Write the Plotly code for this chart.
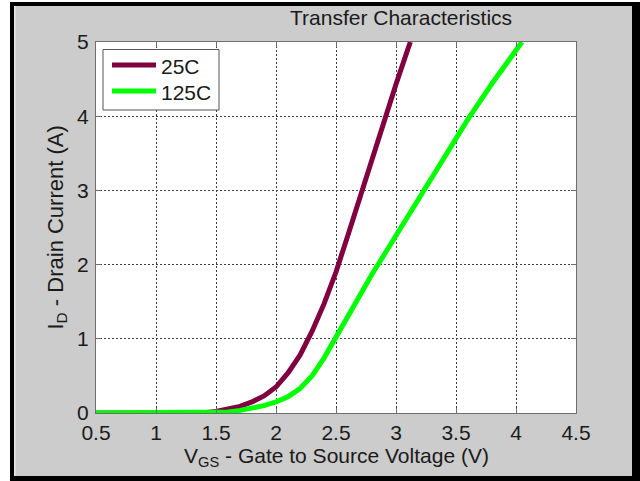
import plotly.graph_objects as go

# ---- data ----
vgs_25 = [0.5, 1.0, 1.3, 1.4, 1.5, 1.6, 1.7, 1.8, 1.9, 2.0, 2.1, 2.2, 2.3, 2.4,
          2.5, 2.6, 2.7, 2.8, 2.9, 3.0, 3.1, 3.12]
id_25 = [0, 0, 0, 0.005, 0.02, 0.05, 0.09, 0.15, 0.23, 0.35, 0.54, 0.78, 1.1, 1.47,
         1.9, 2.4, 2.92, 3.43, 3.94, 4.43, 4.91, 5.0]
vgs_125 = [0.5, 1.0, 1.4, 1.5, 1.6, 1.7, 1.8, 1.9, 2.0, 2.1, 2.2, 2.3, 2.4, 2.5,
           2.6, 2.7, 2.8, 2.9, 3.0, 3.2, 3.4, 3.6, 3.8, 4.0, 4.05]
id_125 = [0, 0, 0, 0.005, 0.015, 0.035, 0.065, 0.1, 0.15, 0.22, 0.33, 0.5, 0.74, 1.03,
          1.32, 1.6, 1.87, 2.13, 2.39, 2.92, 3.45, 3.96, 4.44, 4.9, 5.0]
series_names = ["25C", "125C"]
series_colors = ["#800040", "#00ff00"]
x_ticks = [0.5, 1, 1.5, 2, 2.5, 3, 3.5, 4, 4.5]
x_tick_labels = ["0.5", "1", "1.5", "2", "2.5", "3", "3.5", "4", "4.5"]
y_ticks = [0, 1, 2, 3, 4, 5]
y_tick_labels = ["0", "1", "2", "3", "4", "5"]

FONT = "Liberation Sans, Arial, sans-serif"
TXT = "#1a1a1a"
W, H = 640, 481
L, R, T, B = 96, 64, 42, 68
PW, PH = W - L - R, H - T - B


def px(X):
    return (X - L) / PW


def py(Y):
    return (H - B - Y) / PH


fig = go.Figure()
fig.add_trace(go.Scatter(x=vgs_25, y=id_25, mode="lines", name=series_names[0],
                         line=dict(color=series_colors[0], width=5), showlegend=False))
fig.add_trace(go.Scatter(x=vgs_125, y=id_125, mode="lines", name=series_names[1],
                         line=dict(color=series_colors[1], width=5), showlegend=False))

axis_common = dict(showline=True, linecolor="#6e6e6e", linewidth=1, mirror="ticks",
                   ticks="inside", ticklen=5, tickcolor="#6e6e6e",
                   showgrid=True, gridcolor="#404040", gridwidth=1, griddash="2px,2px",
                   zeroline=False, tickfont=dict(family=FONT, size=21, color=TXT))

fig.update_xaxes(range=[0.5, 4.5], tickvals=x_ticks, ticktext=x_tick_labels,
                 ticklabelstandoff=1, **axis_common)
fig.update_yaxes(range=[0, 5], tickvals=y_ticks, ticktext=y_tick_labels,
                 ticklabelstandoff=2, **axis_common)

shapes = []


def rect(X0, Y0, X1, Y1, color, layer="below", line=None):
    shapes.append(dict(type="rect", xref="paper", yref="paper",
                       x0=px(X0), x1=px(X1), y0=py(Y1), y1=py(Y0),
                       fillcolor=color, line=line or dict(width=0), layer=layer))


# outer frame
rect(-10, -10, 10, 500, "white")
rect(-10, -10, 660, 2, "white")
rect(10, 2, 14, 481, "black")
rect(10, 2, 660, 6, "black")
rect(632, 2, 660, 500, "black")
rect(10, 476, 660, 500, "black")
rect(14, 6, 15.5, 476, "#e9e9e9")

# legend box (drawn as a MATLAB-style legend)
rect(103, 49.5, 219, 110, "white", layer="above", line=dict(color="#555555", width=1))
legend_rows_y = [65, 91]
annotations = []
for name, color, yrow in zip(series_names, series_colors, legend_rows_y):
    shapes.append(dict(type="line", xref="paper", yref="paper",
                       x0=px(112), x1=px(156), y0=py(yrow), y1=py(yrow),
                       line=dict(color=color, width=5), layer="above"))
    annotations.append(dict(text=name, xref="paper", yref="paper",
                            x=px(159), y=py(yrow + 1), xanchor="left", yanchor="middle",
                            showarrow=False, font=dict(family=FONT, size=21, color=TXT)))

annotations += [
    dict(text="Transfer Characteristics", xref="paper", yref="paper",
         x=px(401), y=py(18), xanchor="center", yanchor="middle", showarrow=False,
         font=dict(family=FONT, size=21, color=TXT)),
    dict(text="V<sub>GS</sub> - Gate to Source Voltage (V)", xref="paper", yref="paper",
         x=px(336), y=py(457), xanchor="center", yanchor="middle", showarrow=False,
         font=dict(family=FONT, size=21, color=TXT)),
    dict(text="I<sub>D</sub> - Drain Current (A)", xref="paper", yref="paper",
         x=px(56), y=0.5, xanchor="center", yanchor="middle", showarrow=False,
         textangle=-90, font=dict(family=FONT, size=22, color=TXT)),
]

fig.update_layout(
    width=W, height=H,
    margin=dict(l=L, r=R, t=T, b=B, pad=0),
    paper_bgcolor="#cccccc", plot_bgcolor="white",
    shapes=shapes, annotations=annotations,
    showlegend=False,
)

fig.write_html("out.html", config={"displayModeBar": False},
               post_script="document.body.style.margin='0px';document.body.style.overflow='hidden';")
